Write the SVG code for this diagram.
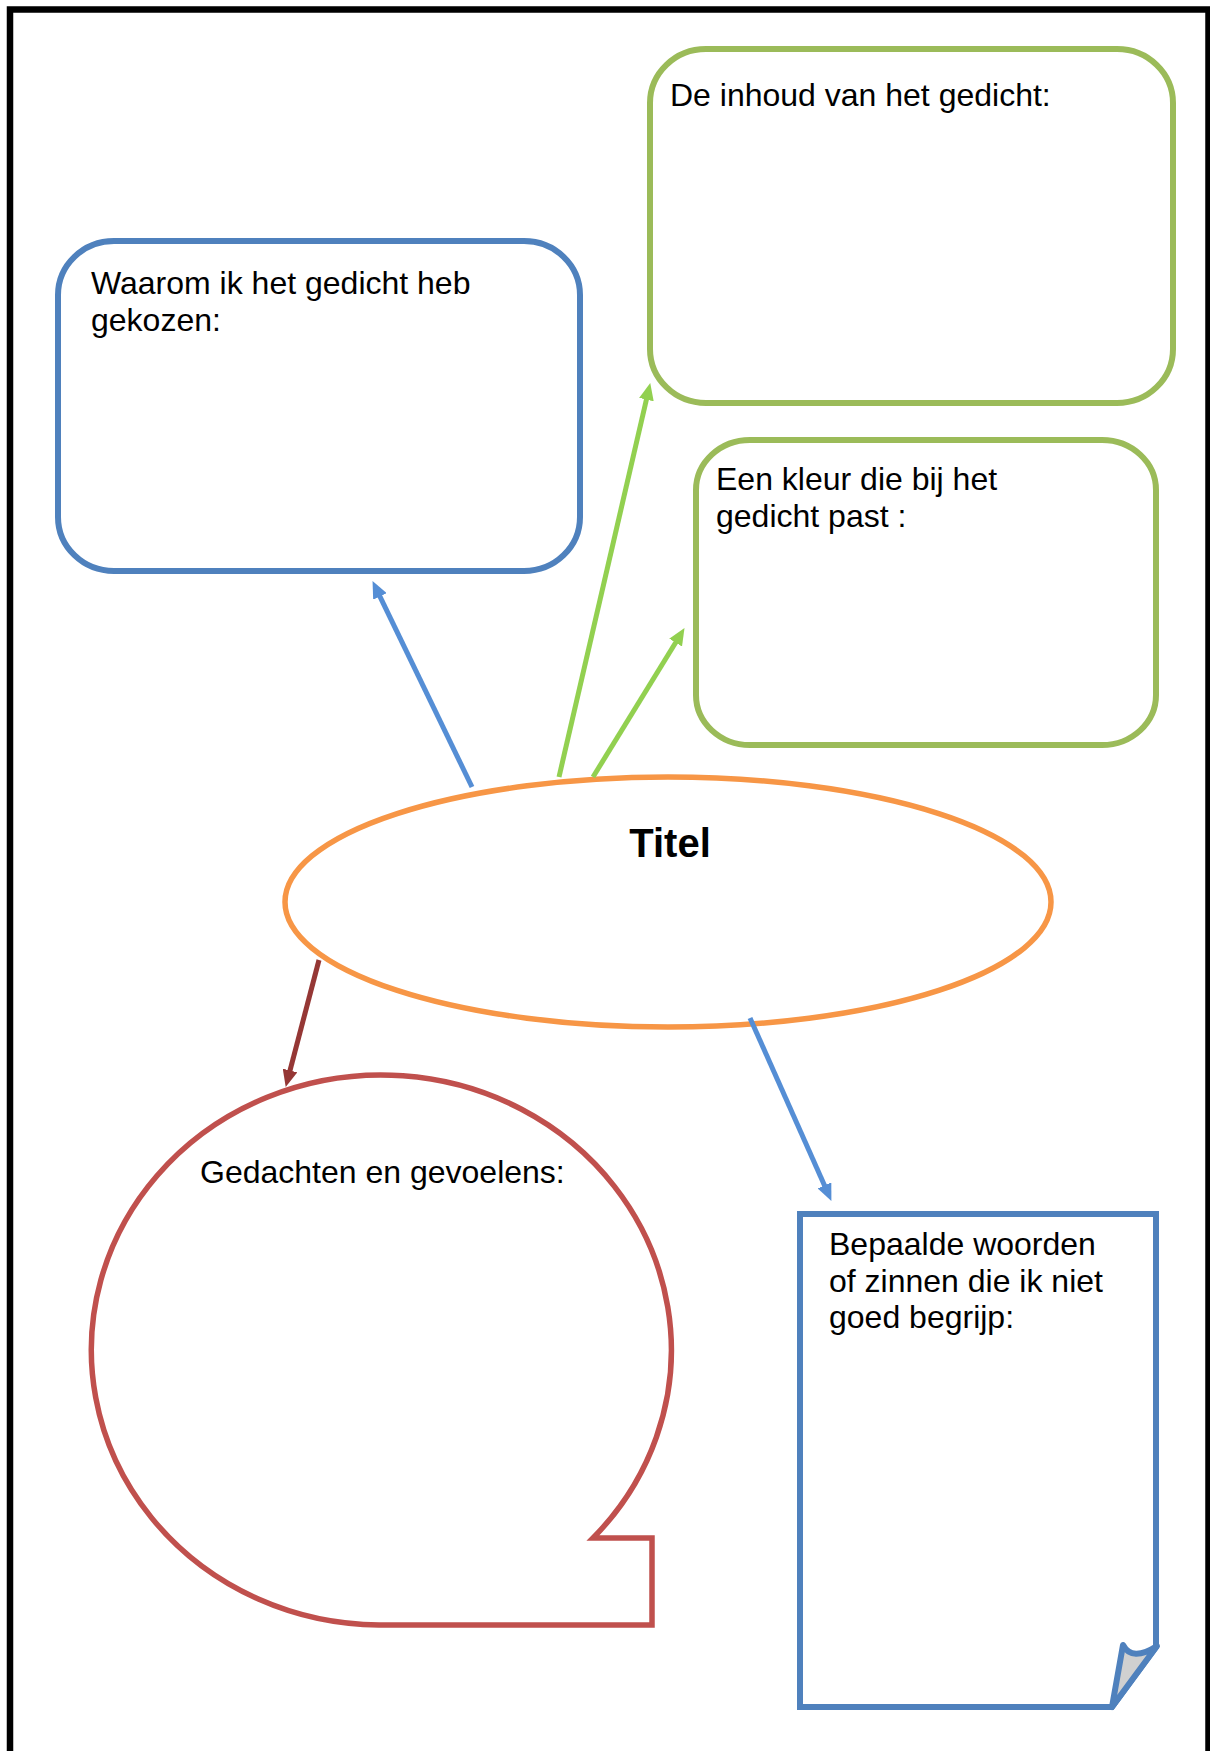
<svg xmlns="http://www.w3.org/2000/svg" width="1210" height="1751" viewBox="0 0 1210 1751">
<style>
text{font-family:"Liberation Sans",Arial,sans-serif;font-size:32px;fill:#000}
.title{font-weight:bold;font-size:40px}
.gbox{fill:#fff;stroke:#9BBB59;stroke-width:6}
.bbox{fill:#fff;stroke:#4F81BD;stroke-width:6}
.conn{fill:none;stroke-width:5}
</style>
<defs>
<marker id="ab" markerUnits="userSpaceOnUse" markerWidth="17" markerHeight="15" refX="4" refY="7.5" orient="auto"><path d="M0,0 L17,7.5 L0,15 z" fill="#558ED5"/></marker>
<marker id="ag" markerUnits="userSpaceOnUse" markerWidth="17" markerHeight="15" refX="4" refY="7.5" orient="auto"><path d="M0,0 L17,7.5 L0,15 z" fill="#92D050"/></marker>
<marker id="ar" markerUnits="userSpaceOnUse" markerWidth="17" markerHeight="15" refX="4" refY="7.5" orient="auto"><path d="M0,0 L17,7.5 L0,15 z" fill="#953735"/></marker>
</defs>
<rect width="1210" height="1751" fill="#fff"/>
<rect x="10" y="9.5" width="1198.5" height="1780" fill="none" stroke="#000" stroke-width="6.5"/>

<g id="inhoud">
<rect class="gbox" x="650" y="49" width="523" height="354" rx="56" ry="54"/>
<text x="670" y="106">De inhoud van het gedicht:</text>
</g>
<g id="waarom">
<rect class="bbox" x="58" y="241" width="522" height="330" rx="56" ry="54"/>
<text x="91" y="294">Waarom ik het gedicht heb</text>
<text x="91" y="331">gekozen:</text>
</g>
<g id="kleur">
<rect class="gbox" x="696" y="440" width="460" height="305" rx="54" ry="50"/>
<text x="716" y="490">Een kleur die bij het</text>
<text x="716" y="527">gedicht past :</text>
</g>
<g id="titel">
<ellipse cx="668" cy="902" rx="383" ry="125" fill="#fff" stroke="#F79646" stroke-width="5.5"/>
<text class="title" x="670" y="857" text-anchor="middle">Titel</text>
</g>
<g id="gedachten">
<path d="M379,1625 A290,275 0 1 1 593,1538 H652 V1625 Z" fill="#fff" stroke="#C0504D" stroke-width="5.5"/>
<text x="200" y="1183">Gedachten en gevoelens:</text>
</g>
<g id="woorden">
<path d="M800,1214 H1156 V1647 L1112,1707 H800 Z" fill="#fff" stroke="#4F81BD" stroke-width="6" stroke-linejoin="miter"/>
<path d="M1123,1645 Q1132,1662 1157,1646 L1112,1707 Z" fill="#D0D0D0" stroke="#4F81BD" stroke-width="6" stroke-linejoin="round"/>
<text x="829" y="1255">Bepaalde woorden</text>
<text x="829" y="1292">of zinnen die ik niet</text>
<text x="829" y="1328">goed begrijp:</text>
</g>

<g id="connectors">
<line class="conn" x1="472" y1="787" x2="378.2" y2="592.8" stroke="#558ED5" marker-end="url(#ab)"/>
<line class="conn" x1="559" y1="777" x2="647.3" y2="395.7" stroke="#92D050" marker-end="url(#ag)"/>
<line class="conn" x1="593" y1="777" x2="677.7" y2="639.2" stroke="#92D050" marker-end="url(#ag)"/>
<line class="conn" x1="319" y1="960" x2="289" y2="1074.4" stroke="#953735" marker-end="url(#ar)"/>
<line class="conn" x1="750" y1="1018" x2="826.1" y2="1189" stroke="#558ED5" marker-end="url(#ab)"/>
</g>
</svg>
